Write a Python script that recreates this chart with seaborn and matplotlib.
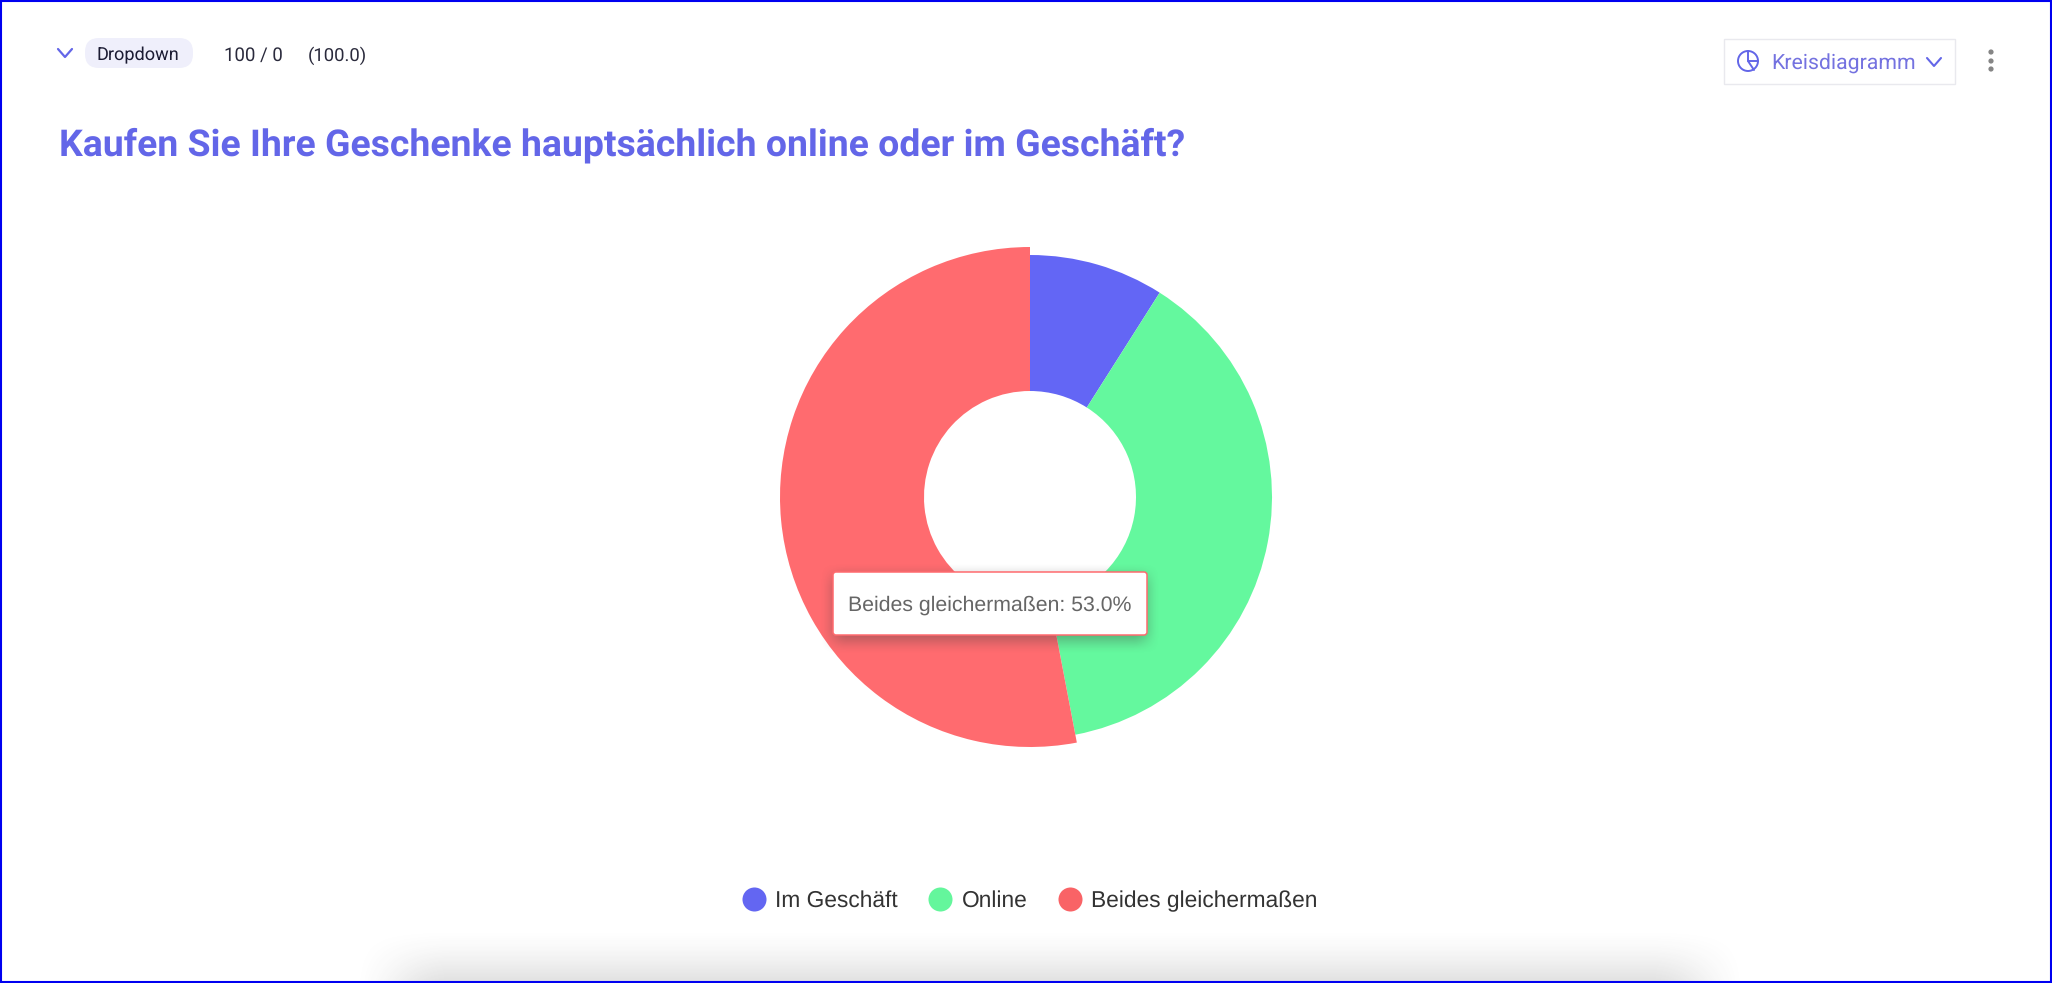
import numpy as np
import matplotlib
matplotlib.use("Agg")
import matplotlib.pyplot as plt
import seaborn as sns
from matplotlib.lines import Line2D
from matplotlib.patches import Circle, FancyBboxPatch, Rectangle

# Chart data
categories = ["Im Geschäft", "Online", "Beides gleichermaßen"]
values = [9.0, 38.0, 53.0]
colors = ["#6366F5", "#64F89E", "#FF6B6F"]
legend_colors = ["#6366F2", "#64F69C", "#F96366"]
title = "Kaufen Sie Ihre Geschenke hauptsächlich online oder im Geschäft?"
question_type = "Dropdown"
counts = "100 / 0"
base = "(100.0)"
chart_type = "Kreisdiagramm"

W, H = 2052, 983
ACCENT = "#6366E8"

sns.set_theme(style="white", palette=sns.color_palette(colors))
plt.rcParams["font.family"] = ["Roboto", "DejaVu Sans"]
plt.rcParams["text.hinting"] = "no_hinting"


def soft_shadow(ax, x0, x1, y0, y1, blur, alpha, zorder):
    """Blurred grey rectangle, used for the tooltip and the bottom edge."""
    xs = np.arange(x0 - blur, x1 + blur)
    ys = np.arange(y0 - blur, y1 + blur)
    fx = np.clip((xs - (x0 - blur)) / (2 * blur), 0, 1) * np.clip(((x1 + blur) - xs) / (2 * blur), 0, 1)
    fy = np.clip((ys - (y0 - blur)) / (2 * blur), 0, 1) * np.clip(((y1 + blur) - ys) / (2 * blur), 0, 1)
    fx = fx * fx * (3 - 2 * fx)
    fy = fy * fy * (3 - 2 * fy)
    rgba = np.zeros((len(ys), len(xs), 4))
    rgba[..., :3] = 0.25
    rgba[..., 3] = alpha * np.outer(fy, fx)
    ax.imshow(rgba, extent=(xs[0], xs[-1], ys[-1], ys[0]), zorder=zorder, aspect="auto",
              interpolation="bilinear")


def chevron(ax, cx, cy, w, h, color, lw):
    ax.plot([cx - w, cx, cx + w], [cy - h, cy + h, cy - h], color=color, lw=lw,
            solid_capstyle="round", solid_joinstyle="round")


fig = plt.figure(figsize=(W / 100, H / 100), dpi=100, facecolor="white")

# Donut chart, the axes is 1 unit per pixel
cx, cy, half = 1030, 497, 300
pie_ax = fig.add_axes([(cx - half) / W, 1 - (cy + half) / H, 2 * half / W, 2 * half / H])
wedges, _ = pie_ax.pie(values, colors=colors, startangle=90, counterclock=False, radius=242,
                       wedgeprops={"width": 136, "linewidth": 0})
# the last slice is hovered in the reference, so it sticks out a bit
wedges[2].set_radius(250)
wedges[2].set_width(144)
pie_ax.set_xlim(-half, half)
pie_ax.set_ylim(-half, half)

# Overlay in pixel coordinates for the page elements around the chart
ui = fig.add_axes([0, 0, 1, 1], facecolor="none")
ui.set_axis_off()

soft_shadow(ui, 400, 1700, 975, 1060, 50, 0.26, 1)

# Header row
chevron(ui, 65, 53, 7, 4, ACCENT, 1.6)
ui.add_patch(FancyBboxPatch((85, 38), 108, 30, boxstyle="round,pad=0,rounding_size=14",
                            fc="#EFEFFB", ec="none", zorder=2))
ui.text(97, 54, question_type, fontsize=13.1, color="#1B1B33", ha="left", va="center_baseline", zorder=3)
ui.text(224, 54, counts, fontsize=13.4, color="#2A2A3C", ha="left", va="center_baseline")
ui.text(308, 54, base, fontsize=13.3, color="#2A2A3C", ha="left", va="center_baseline")

ui.text(59, 155, title, fontsize=26.9, fontweight="bold", color="#6366E8", ha="left", va="baseline")

# Chart type selector
ui.add_patch(Rectangle((1724, 39), 231, 45, fc="white", ec="#E9E9EE", lw=1))
ui.add_patch(Circle((1748, 61), 10, fc="none", ec=ACCENT, lw=1.4))
ui.plot([1748, 1748, 1758], [51, 61, 61], color=ACCENT, lw=1.4)
ui.plot([1748, 1754], [61, 70], color=ACCENT, lw=1.4)
ui.text(1771, 62, chart_type, fontsize=15.3, color="#7472E0", ha="left", va="center_baseline")
chevron(ui, 1934, 62, 7, 4, ACCENT, 1.5)
for dot_y in [52, 61, 69]:
    ui.add_patch(Circle((1991, dot_y), 2.6, fc="#858585", ec="none"))

# Tooltip for the hovered slice
soft_shadow(ui, 833, 1147, 576, 641, 14, 0.42, 4)
ui.add_patch(FancyBboxPatch((833, 572), 314, 63, boxstyle="round,pad=0,rounding_size=3",
                            fc="white", ec=colors[2], lw=1.1, zorder=5))
ui.text(848, 603, f"{categories[2]}: {values[2]:.1f}%", family=["Liberation Sans", "DejaVu Sans"],
        fontsize=15.3, color="#666666", ha="left", va="center_baseline", zorder=6)

# Frame of the screenshot
ui.add_patch(Rectangle((1, 1), W - 2, H - 2, fc="none", ec="#0000F0", lw=1.5, zorder=8))

ui.set_xlim(0, W)
ui.set_ylim(H, 0)

# Legend below the chart
handles = [Line2D([], [], linestyle="none", marker="o", markersize=17.3, markeredgewidth=0,
                  color=c, label=lab) for c, lab in zip(legend_colors, categories)]
fig.legend(handles=handles, ncol=3, loc="center", bbox_to_anchor=(1030 / W, 1 - 901 / H), frameon=False,
           prop={"family": ["Liberation Sans", "DejaVu Sans"], "size": 16.4}, labelcolor="#333333",
           handlelength=1.0, handletextpad=0.43, columnspacing=1.38, borderpad=0, borderaxespad=0)

fig.savefig("out.png", dpi=100)
